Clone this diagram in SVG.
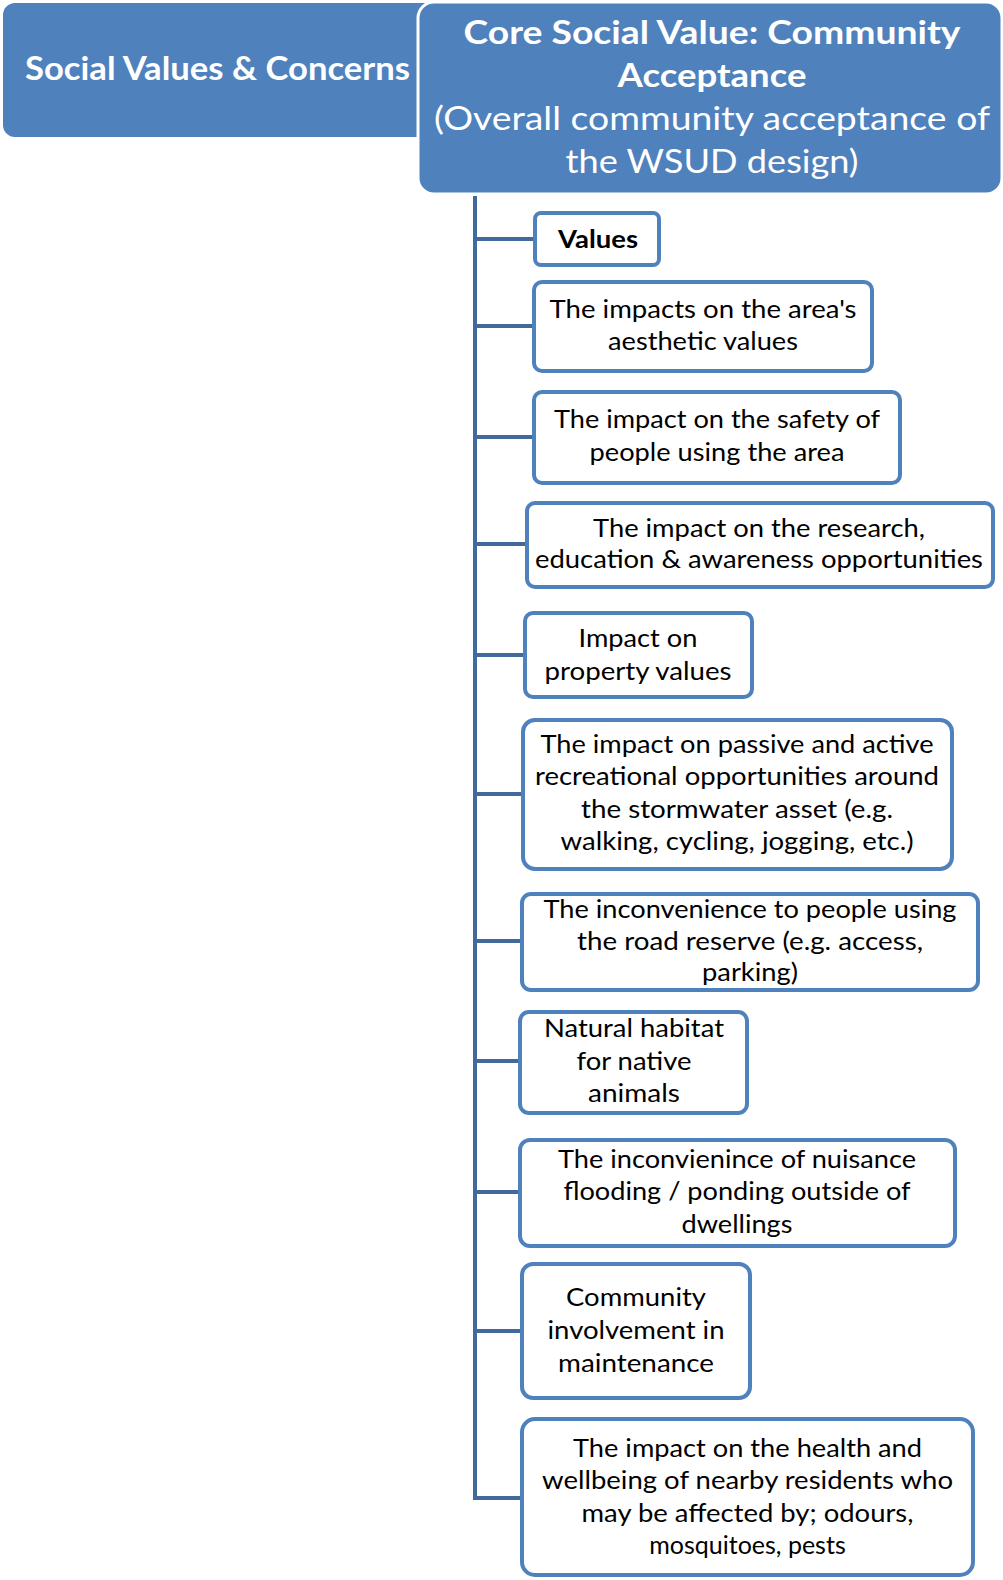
<svg xmlns="http://www.w3.org/2000/svg" width="1003" height="1580" viewBox="0 0 1003 1580">
<style>
.hdr{fill:#4F81BD}
.core{fill:#4F81BD;stroke:#FFFFFF;stroke-width:3}
.box{fill:#FFFFFF;stroke:#4F81BD;stroke-width:4}
.ht{font-family:Lato,"Open Sans","Liberation Sans",sans-serif;fill:#FFFFFF;text-anchor:middle}
.t{font-family:Lato,"Open Sans","Liberation Sans",sans-serif;font-size:25px;fill:#000000;text-anchor:middle}
.b{font-weight:bold}
.con{stroke:#41699C;stroke-width:4;fill:none}
</style>
<rect width="1003" height="1580" fill="#FFFFFF"/>
<g id="header-left">
<rect class="hdr" x="3" y="3" width="440" height="134" rx="12"/>
<text class="ht b" x="217.5" y="80" font-size="33" textLength="385" lengthAdjust="spacingAndGlyphs">Social Values &amp; Concerns</text>
</g>
<g id="connectors">
<line class="con" x1="475" y1="196" x2="475" y2="1500"/>
<line class="con" x1="473" y1="239" x2="535" y2="239"/>
<line class="con" x1="473" y1="326" x2="534" y2="326"/>
<line class="con" x1="473" y1="437" x2="534" y2="437"/>
<line class="con" x1="473" y1="544" x2="527" y2="544"/>
<line class="con" x1="473" y1="655" x2="525" y2="655"/>
<line class="con" x1="473" y1="794" x2="523" y2="794"/>
<line class="con" x1="473" y1="941" x2="522" y2="941"/>
<line class="con" x1="473" y1="1061" x2="520" y2="1061"/>
<line class="con" x1="473" y1="1192" x2="520" y2="1192"/>
<line class="con" x1="473" y1="1331" x2="522" y2="1331"/>
<line class="con" x1="473" y1="1498" x2="522" y2="1498"/>
</g>
<g id="core">
<rect class="core" x="418" y="2" width="584" height="192" rx="16"/>
<text class="ht b" x="712" y="44" font-size="32" textLength="497" lengthAdjust="spacingAndGlyphs">Core Social Value: Community</text>
<text class="ht b" x="712" y="87" font-size="32" textLength="189" lengthAdjust="spacingAndGlyphs">Acceptance</text>
<text class="ht" x="712" y="130" font-size="32" textLength="556" lengthAdjust="spacingAndGlyphs">(Overall community acceptance of</text>
<text class="ht" x="712" y="173" font-size="32" textLength="293" lengthAdjust="spacingAndGlyphs">the WSUD design)</text>
</g>
<g id="n1">
<rect class="box" x="535" y="213" width="124" height="52" rx="6"/>
<text class="t b" x="598" y="248" textLength="80" lengthAdjust="spacingAndGlyphs">Values</text>
</g>
<g id="n2">
<rect class="box" x="534" y="282" width="338" height="89" rx="8"/>
<text class="t" x="703" y="318" textLength="307" lengthAdjust="spacingAndGlyphs">The impacts on the area's</text>
<text class="t" x="703" y="350" textLength="190" lengthAdjust="spacingAndGlyphs">aesthetic values</text>
</g>
<g id="n3">
<rect class="box" x="534" y="392" width="366" height="91" rx="8"/>
<text class="t" x="717" y="428" textLength="326" lengthAdjust="spacingAndGlyphs">The impact on the safety of</text>
<text class="t" x="717" y="461" textLength="255" lengthAdjust="spacingAndGlyphs">people using the area</text>
</g>
<g id="n4">
<rect class="box" x="527" y="503" width="466" height="84" rx="8"/>
<text class="t" x="759" y="537" textLength="332" lengthAdjust="spacingAndGlyphs">The impact on the research,</text>
<text class="t" x="759" y="568" textLength="448" lengthAdjust="spacingAndGlyphs">education &amp; awareness opportunities</text>
</g>
<g id="n5">
<rect class="box" x="525" y="613" width="227" height="84" rx="8"/>
<text class="t" x="638" y="647" textLength="119" lengthAdjust="spacingAndGlyphs">Impact on</text>
<text class="t" x="638" y="680" textLength="187" lengthAdjust="spacingAndGlyphs">property values</text>
</g>
<g id="n6">
<rect class="box" x="523" y="720" width="429" height="149" rx="12"/>
<text class="t" x="737" y="753" textLength="393" lengthAdjust="spacingAndGlyphs">The impact on passive and active</text>
<text class="t" x="737" y="785" textLength="404" lengthAdjust="spacingAndGlyphs">recreational opportunities around</text>
<text class="t" x="737" y="818" textLength="312" lengthAdjust="spacingAndGlyphs">the stormwater asset (e.g.</text>
<text class="t" x="737" y="850" textLength="353" lengthAdjust="spacingAndGlyphs">walking, cycling, jogging, etc.)</text>
</g>
<g id="n7">
<rect class="box" x="522" y="894" width="456" height="96" rx="9"/>
<text class="t" x="750" y="918" textLength="413" lengthAdjust="spacingAndGlyphs">The inconvenience to people using</text>
<text class="t" x="750" y="950" textLength="346" lengthAdjust="spacingAndGlyphs">the road reserve (e.g. access,</text>
<text class="t" x="750" y="981" textLength="96" lengthAdjust="spacingAndGlyphs">parking)</text>
</g>
<g id="n8">
<rect class="box" x="520" y="1012" width="227" height="101" rx="9"/>
<text class="t" x="634" y="1037" textLength="180" lengthAdjust="spacingAndGlyphs">Natural habitat</text>
<text class="t" x="634" y="1070" textLength="115" lengthAdjust="spacingAndGlyphs">for native</text>
<text class="t" x="634" y="1102" textLength="92" lengthAdjust="spacingAndGlyphs">animals</text>
</g>
<g id="n9">
<rect class="box" x="520" y="1140" width="435" height="106" rx="10"/>
<text class="t" x="737" y="1168" textLength="358" lengthAdjust="spacingAndGlyphs">The inconvienince of nuisance</text>
<text class="t" x="737" y="1200" textLength="347" lengthAdjust="spacingAndGlyphs">flooding / ponding outside of</text>
<text class="t" x="737" y="1233" textLength="111" lengthAdjust="spacingAndGlyphs">dwellings</text>
</g>
<g id="n10">
<rect class="box" x="522" y="1264" width="228" height="134" rx="11"/>
<text class="t" x="636" y="1306" textLength="140" lengthAdjust="spacingAndGlyphs">Community</text>
<text class="t" x="636" y="1339" textLength="177" lengthAdjust="spacingAndGlyphs">involvement in</text>
<text class="t" x="636" y="1372" textLength="156" lengthAdjust="spacingAndGlyphs">maintenance</text>
</g>
<g id="n11">
<rect class="box" x="522" y="1419" width="451" height="156" rx="13"/>
<text class="t" x="747.5" y="1457" textLength="349" lengthAdjust="spacingAndGlyphs">The impact on the health and</text>
<text class="t" x="747.5" y="1489" textLength="411" lengthAdjust="spacingAndGlyphs">wellbeing of nearby residents who</text>
<text class="t" x="747.5" y="1522" textLength="332" lengthAdjust="spacingAndGlyphs">may be affected by; odours,</text>
<text class="t" x="747.5" y="1554">mosquitoes, pests</text>
</g>
</svg>
